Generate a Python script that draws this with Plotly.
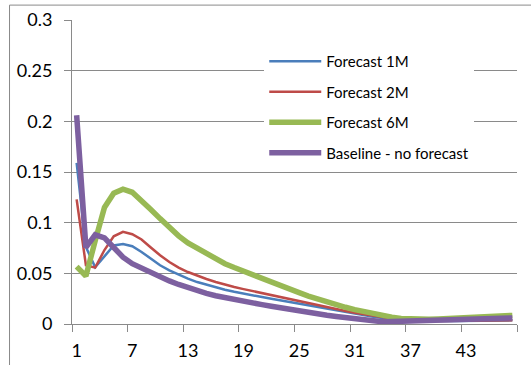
import plotly.graph_objects as go

# Forecast horizon periods (category axis)
periods = list(range(1, 49))

forecast_1m = [
    0.159, 0.076, 0.056, 0.067, 0.0775, 0.079, 0.0767, 0.0711, 0.0646, 0.058,
    0.053, 0.0487, 0.0448, 0.0414, 0.0388, 0.0361, 0.0338, 0.0318, 0.0299, 0.0282,
    0.0266, 0.025, 0.0234, 0.0217, 0.0198, 0.018, 0.0164, 0.0148, 0.0131, 0.0115,
    0.010, 0.0086, 0.0072, 0.006, 0.0048, 0.004, 0.0035, 0.0032, 0.003, 0.003,
    0.003, 0.003, 0.003, 0.003, 0.003, 0.0032, 0.0034, 0.0036,
]

forecast_2m = [
    0.123, 0.058, 0.0556, 0.073, 0.0865, 0.091, 0.0886, 0.0834, 0.0755, 0.0678,
    0.0612, 0.0556, 0.0513, 0.0477, 0.0444, 0.0414, 0.0388, 0.0365, 0.0344, 0.0324,
    0.0305, 0.0288, 0.0268, 0.0248, 0.0226, 0.0205, 0.0184, 0.0164, 0.0146, 0.0128,
    0.0112, 0.0096, 0.008, 0.0066, 0.0053, 0.0043, 0.0036, 0.0032, 0.003, 0.003,
    0.003, 0.003, 0.003, 0.003, 0.0031, 0.0033, 0.0035, 0.0037,
]

forecast_6m = [
    0.0566, 0.0474, 0.082, 0.115, 0.129, 0.133, 0.130, 0.122, 0.113, 0.104,
    0.095, 0.087, 0.080, 0.0745, 0.069, 0.064, 0.0595, 0.0557, 0.052, 0.0485,
    0.0451, 0.0418, 0.038, 0.0342, 0.031, 0.0276, 0.0246, 0.0217, 0.019, 0.0165,
    0.0142, 0.0121, 0.0102, 0.0085, 0.0068, 0.0055, 0.0048, 0.0045, 0.0046, 0.0049,
    0.0052, 0.0056, 0.006, 0.0064, 0.0069, 0.0074, 0.0079, 0.0085,
]

baseline = [
    0.206, 0.0755, 0.088, 0.085, 0.0755, 0.066, 0.0595, 0.055, 0.0505, 0.0465,
    0.0425, 0.039, 0.0356, 0.0328, 0.0302, 0.0279, 0.0259, 0.024, 0.0223, 0.0207,
    0.0191, 0.0175, 0.0158, 0.0142, 0.0127, 0.0112, 0.0098, 0.0086, 0.0074, 0.0063,
    0.0052, 0.0042, 0.0032, 0.0022, 0.0024, 0.0027, 0.003, 0.0033, 0.0036, 0.0038,
    0.0041, 0.0044, 0.0047, 0.005, 0.0052, 0.0055, 0.0058, 0.006,
]

series_names = ["Forecast 1M", "Forecast 2M", "Forecast 6M", "Baseline - no forecast"]
series_values = [forecast_1m, forecast_2m, forecast_6m, baseline]
series_colors = ["#4A7EBB", "#BE4B48", "#98B954", "#7D60A0"]
series_widths = [2.5, 2.5, 5.5, 5.5]

x_label_values = list(range(1, 49, 6))
x_tick_labels = [str(v) for v in x_label_values]
x_boundaries = [v - 0.5 for v in range(1, 50, 6)]
y_tick_values = [0, 0.05, 0.1, 0.15, 0.2, 0.25, 0.3]
y_tick_labels = ["0", "0.05", "0.1", "0.15", "0.2", "0.25", "0.3"]

GRID = "#8A8A8A"
FONT = "Lato"

fig = go.Figure()
for name, vals, color, width in zip(series_names, series_values, series_colors, series_widths):
    fig.add_trace(go.Scatter(
        x=periods, y=vals, mode="lines", name=name, legendgroup=name,
        line=dict(color=color, width=width, shape="linear"),
    ))

fig.update_layout(
    width=531, height=365,
    margin=dict(l=72, r=14, t=20, b=41, pad=0, autoexpand=False),
    paper_bgcolor="white", plot_bgcolor="white",
    font=dict(family=FONT, color="black"),
    showlegend=True,
    legend=dict(
        x=0.432, y=0.918, xanchor="left", yanchor="top",
        bgcolor="white", borderwidth=0,
        font=dict(family=FONT, size=15, color="black"),
        tracegroupgap=8, itemwidth=52,
    ),
    xaxis=dict(
        range=[0.5, 48.5], tickmode="array",
        tickvals=x_label_values, ticktext=x_tick_labels,
        ticks="", showgrid=False, zeroline=False, automargin=False,
        showline=True, linecolor=GRID, linewidth=1,
        tickfont=dict(family=FONT, size=18, color="black"),
        ticklabelstandoff=10,
        minor=dict(tickmode="array", tickvals=x_boundaries, ticks="outside",
                   ticklen=7, tickcolor=GRID, tickwidth=1, showgrid=False),
    ),
    yaxis=dict(
        range=[0, 0.3], tickmode="array",
        tickvals=y_tick_values, ticktext=y_tick_labels,
        ticks="outside", ticklen=7, tickcolor=GRID, tickwidth=1,
        showgrid=True, gridcolor=GRID, gridwidth=1, automargin=False,
        zeroline=False, showline=True, linecolor=GRID, linewidth=1,
        tickfont=dict(family=FONT, size=18, color="black"),
        ticklabelstandoff=8,
    ),
    shapes=[dict(
        type="rect", xref="paper", yref="paper",
        x0=-0.1404, x1=1.2, y0=-0.3, y1=1.049,
        line=dict(color=GRID, width=1), fillcolor="rgba(0,0,0,0)", layer="below",
    )],
)

fig.write_html("out.html")
